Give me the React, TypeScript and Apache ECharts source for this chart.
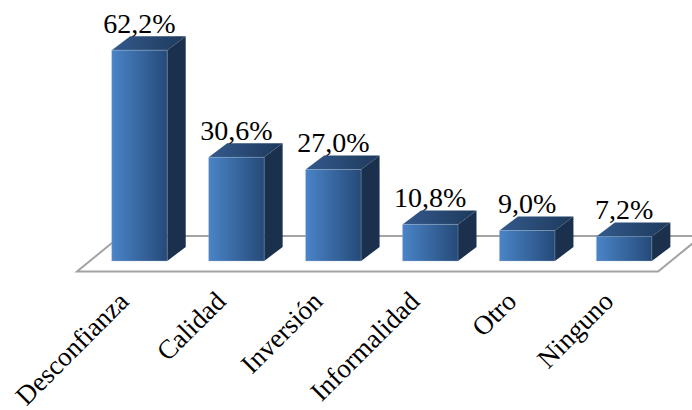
import React, { useEffect, useRef } from "react";
import * as echarts from "echarts";

const categories = ["Desconfianza", "Calidad", "Inversión", "Informalidad", "Otro", "Ninguno"];
const shares = [62.2, 30.6, 27.0, 10.8, 9.0, 7.2];

const DEPTH_X = 18.5;
const DEPTH_Y = 14;
const FONT = "'Liberation Serif', serif";

const fmt = (v: number) => v.toFixed(1).replace(".", ",") + "%";

const hGrad = (a: string, b: string) =>
  new echarts.graphic.LinearGradient(0, 0, 1, 0, [
    { offset: 0, color: a },
    { offset: 1, color: b },
  ]);

// A prism for one category: front, side and top faces plus its value text.
function renderBar(_p: any, api: any) {
  const idx = api.value(0);
  const val = api.value(1);
  const [cx, top] = api.coord([idx, val]);
  const [, base] = api.coord([idx, 0]);
  const w = 55.5;
  const l = cx - w / 2;
  const r = cx + w / 2;
  const pts = (p: number[][]) => ({ points: p });
  return {
    type: "group",
    children: [
      {
        type: "polygon",
        shape: pts([[r, top], [r + DEPTH_X, top - DEPTH_Y], [r + DEPTH_X, base - DEPTH_Y], [r, base]]),
        style: { fill: "#1a304c" },
      },
      {
        type: "polygon",
        shape: pts([[l, top], [l + DEPTH_X, top - DEPTH_Y], [r + DEPTH_X, top - DEPTH_Y], [r, top]]),
        style: { fill: hGrad("#33598c", "#1e3a5c") },
      },
      {
        type: "rect",
        shape: { x: l, y: top, width: w, height: base - top },
        style: { fill: hGrad("#4a84c8", "#254a78"), stroke: "rgba(170,190,215,0.55)", lineWidth: 0.6 },
      },
      {
        type: "text",
        style: {
          x: cx,
          y: top - DEPTH_Y + 1,
          text: fmt(val),
          fill: "#000",
          font: `28px ${FONT}`,
          align: "center",
          verticalAlign: "bottom",
        },
      },
    ],
  };
}

// The floor outline sits under the bars, a parallelogram spanning the plot.
function renderFloor(p: any, api: any) {
  const g = p.coordSys;
  const y = g.y + g.height + 10.5;
  const left = g.x - 14;
  const right = g.x + g.width - 14.5;
  const back = 35.5;
  const skew = 43.5;
  return {
    type: "polygon",
    shape: {
      points: [
        [left, y],
        [right, y],
        [right + skew, y - back],
        [left + skew, y - back],
      ],
    },
    style: { fill: "none", stroke: "#a3a3a3", lineWidth: 2 },
  };
}

export default function App() {
  const ref = useRef<HTMLDivElement>(null);
  useEffect(() => {
    const chart = echarts.init(ref.current!, undefined, { renderer: "svg" });
    chart.setOption({
      animation: false,
      backgroundColor: "#fff",
      grid: { left: 91, right: 19.4, top: 23.7, height: 237.3, containLabel: false, outerBoundsMode: "none" },
      xAxis: {
        type: "category",
        data: categories,
        axisLine: { show: false },
        axisTick: { show: false },
        axisLabel: {
          interval: 0,
          rotate: 45,
          margin: 20,
          padding: [0, 22, 0, 0],
          color: "#000",
          fontSize: 27,
          fontFamily: FONT,
        },
      },
      yAxis: { type: "value", min: 0, max: 70, show: false, splitLine: { show: false } },
      series: [
        {
          type: "custom",
          silent: true,
          clip: false,
          z: 1,
          data: [0],
          renderItem: renderFloor,
          encode: { x: 0 },
        },
        {
          type: "custom",
          silent: true,
          clip: false,
          z: 2,
          data: shares.map((v, i) => [i, v]),
          renderItem: renderBar,
          encode: { x: 0, y: 1 },
        },
      ],
    });
    return () => chart.dispose();
  }, []);
  return <div ref={ref} style={{ position: "absolute", left: 0, top: 0, width: 692, height: 410 }} />;
}
